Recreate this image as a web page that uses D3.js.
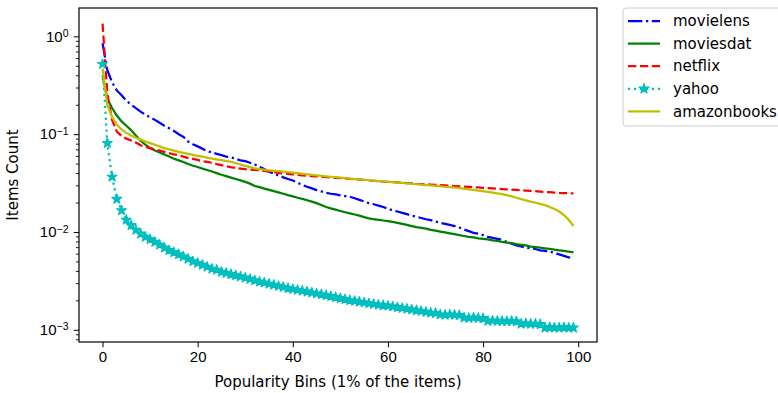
<!DOCTYPE html>
<html>
<head>
<meta charset="utf-8">
<script src="https://cdn.jsdelivr.net/npm/d3@7"></script>
<style>
  body { margin: 0; background: #fff; }
  svg { font-family: "DejaVu Sans", sans-serif; }
  .axis path, .axis line { stroke: #000; }
  .axis text { fill: #000; }
</style>
</head>
<body>
<svg id="chart" width="778" height="393"></svg>
<script>
// popularity bins, 1% of the items each
var bins = d3.range(100);

var movielens = [0.85, 0.45, 0.34, 0.28, 0.25, 0.22, 0.20, 0.185, 0.170, 0.158,
  0.149, 0.140, 0.131, 0.122, 0.115, 0.108, 0.100, 0.094, 0.084, 0.079,
  0.075, 0.071, 0.067, 0.065, 0.063, 0.061, 0.059, 0.058, 0.056, 0.054,
  0.053, 0.051, 0.049, 0.0464, 0.044, 0.0414, 0.0395, 0.0378, 0.0362, 0.0348,
  0.0336, 0.0318, 0.0303, 0.029, 0.0279, 0.0268, 0.0260, 0.0252, 0.0246, 0.0242,
  0.0237, 0.0233, 0.0229, 0.0221, 0.0213, 0.0205, 0.0197, 0.0192, 0.0186, 0.0180,
  0.0173, 0.0166, 0.0162, 0.0157, 0.0152, 0.0147, 0.0143, 0.0139, 0.0135, 0.0132,
  0.0128, 0.0124, 0.0121, 0.0118, 0.0115, 0.0111, 0.0106, 0.0102, 0.0098, 0.0096,
  0.0093, 0.0089, 0.0087, 0.0085, 0.0083, 0.0079, 0.0076, 0.0073, 0.0071, 0.0069,
  0.0068, 0.0067, 0.0065, 0.0064, 0.0063, 0.0061, 0.0059, 0.0057, 0.0055, 0.0054];

var moviesdat = [0.40, 0.23, 0.185, 0.155, 0.135, 0.122, 0.110, 0.097, 0.086, 0.078,
  0.072, 0.068, 0.065, 0.062, 0.059, 0.056, 0.054, 0.052, 0.0495, 0.0475,
  0.0462, 0.0445, 0.043, 0.0415, 0.040, 0.0385, 0.0372, 0.036, 0.0348, 0.0337,
  0.0325, 0.0312, 0.0295, 0.0287, 0.0278, 0.027, 0.0262, 0.0254, 0.0246, 0.0238,
  0.0231, 0.0224, 0.0218, 0.0211, 0.0204, 0.0197, 0.0189, 0.0180, 0.0174, 0.0169,
  0.0164, 0.0159, 0.0155, 0.0151, 0.0147, 0.0142, 0.0138, 0.0135, 0.0133, 0.0131,
  0.0129, 0.0127, 0.0124, 0.0121, 0.0118, 0.0115, 0.0112, 0.0110, 0.0108, 0.0105,
  0.0103, 0.0101, 0.0099, 0.0097, 0.0095, 0.0093, 0.0091, 0.0089, 0.0088, 0.0086,
  0.0085, 0.0084, 0.0082, 0.0081, 0.0079, 0.0078, 0.0077, 0.0075, 0.0074, 0.0073,
  0.0071, 0.0070, 0.0069, 0.0068, 0.0067, 0.0066, 0.0065, 0.0064, 0.0063, 0.0062];

var netflix = [1.35, 0.26, 0.14, 0.106, 0.096, 0.090, 0.086, 0.082, 0.077, 0.074,
  0.072, 0.070, 0.068, 0.066, 0.064, 0.062, 0.061, 0.059, 0.057, 0.056,
  0.0545, 0.053, 0.052, 0.051, 0.0495, 0.0483, 0.047, 0.046, 0.0452, 0.0445,
  0.0438, 0.0435, 0.0431, 0.0427, 0.0421, 0.0415, 0.041, 0.0403, 0.0397, 0.0393,
  0.0389, 0.0384, 0.038, 0.0377, 0.0373, 0.037, 0.0367, 0.0364, 0.0361, 0.0358,
  0.0355, 0.0352, 0.0349, 0.0346, 0.0343, 0.034, 0.0337, 0.0334, 0.0331, 0.0328,
  0.0326, 0.0324, 0.0321, 0.0318, 0.0316, 0.0314, 0.0311, 0.0309, 0.0307, 0.0305,
  0.0303, 0.0301, 0.0299, 0.0297, 0.0295, 0.0293, 0.0291, 0.0289, 0.0287, 0.0285,
  0.0283, 0.0281, 0.0279, 0.0277, 0.0275, 0.0273, 0.0271, 0.0269, 0.0267, 0.0265,
  0.0263, 0.0261, 0.0259, 0.0257, 0.0255, 0.0253, 0.0251, 0.025, 0.0249, 0.0248];

var yahoo = [0.52, 0.081, 0.0366, 0.0217, 0.0166, 0.0133, 0.0117, 0.0105, 0.0096, 0.0089,
  0.0084, 0.0079, 0.0074, 0.0069, 0.0065, 0.0062, 0.0059, 0.0056, 0.0053, 0.0050,
  0.0048, 0.0046, 0.0044, 0.0042, 0.0041, 0.0039, 0.0038, 0.0037, 0.0036, 0.0035,
  0.0034, 0.0033, 0.0032, 0.0031, 0.00303, 0.00295, 0.00288, 0.0028, 0.00273, 0.00266,
  0.0026, 0.00255, 0.0025, 0.00245, 0.0024, 0.00235, 0.0023, 0.00225, 0.0022, 0.00215,
  0.0021, 0.00205, 0.0020, 0.00197, 0.00193, 0.0019, 0.00186, 0.00183, 0.0018, 0.00178,
  0.00176, 0.00173, 0.0017, 0.00167, 0.00164, 0.00161, 0.00158, 0.00155, 0.00152, 0.00149,
  0.00148, 0.00143, 0.00142, 0.00143, 0.00142, 0.00141, 0.00133, 0.00132, 0.00133, 0.00132,
  0.00131, 0.00123, 0.00124, 0.00123, 0.00123, 0.00122, 0.00123, 0.00122, 0.00115, 0.00116,
  0.00115, 0.00115, 0.00114, 0.00105, 0.00106, 0.00105, 0.00105, 0.00106, 0.00105, 0.00105];

var amazonbooks = [0.47, 0.20, 0.15, 0.125, 0.112, 0.103, 0.097, 0.092, 0.088, 0.084,
  0.081, 0.078, 0.075, 0.072, 0.070, 0.068, 0.066, 0.0645, 0.063, 0.0615,
  0.060, 0.0588, 0.0575, 0.0563, 0.0552, 0.0542, 0.0532, 0.0522, 0.0505, 0.049,
  0.0475, 0.046, 0.0448, 0.044, 0.0433, 0.0427, 0.0422, 0.0418, 0.0414, 0.041,
  0.0404, 0.0399, 0.0393, 0.0388, 0.0383, 0.0379, 0.0375, 0.0371, 0.0367, 0.0363,
  0.0359, 0.0355, 0.0351, 0.0348, 0.0345, 0.0341, 0.0338, 0.0335, 0.0332, 0.0329,
  0.0326, 0.0323, 0.032, 0.0317, 0.0314, 0.0311, 0.0308, 0.0305, 0.0302, 0.0299,
  0.0296, 0.0293, 0.029, 0.0287, 0.0284, 0.0281, 0.0277, 0.0273, 0.0269, 0.0265,
  0.0261, 0.0257, 0.0253, 0.0248, 0.0244, 0.0238, 0.0231, 0.0224, 0.0217, 0.021,
  0.0204, 0.0199, 0.0194, 0.0188, 0.018, 0.0172, 0.0162, 0.0149, 0.0133, 0.0115];

var seriesNames = ["movielens", "moviesdat", "netflix", "yahoo", "amazonbooks"];
var seriesValues = [movielens, moviesdat, netflix, yahoo, amazonbooks];
var seriesColors = ["#0000ff", "#008000", "#ff0000", "#00bfbf", "#bfbf00"];
var seriesDash = ["14.4,3.6,2.25,3.6", null, "8.3,3.6", "2.25,3.7", null];
var seriesMarker = [false, false, false, true, false];

var xTicks = [0, 20, 40, 60, 80, 100];
var yMajor = [1e-3, 1e-2, 1e-1, 1];
var yLabels = ["\u22123", "\u22122", "\u22121", "0"];

var margin = {top: 8, right: 181, bottom: 51, left: 79};
var W = 778, H = 393;
var width = W - margin.left - margin.right,
    height = H - margin.top - margin.bottom;

var svg = d3.select("#chart");
var g = svg.append("g").attr("transform", "translate(" + margin.left + "," + margin.top + ")");

var x = d3.scaleLinear().domain([-4.95, 103.95]).range([0, width]);
var y = d3.scaleLog().domain([7.5e-4, 1.95]).range([height, 0]);

svg.append("defs").append("clipPath").attr("id", "clip")
  .append("rect").attr("width", width).attr("height", height);

// minor ticks for the log axis
var yMinor = [];
[1e-4, 1e-3, 1e-2, 1e-1, 1].forEach(function(d) {
  for (var k = 2; k <= 9; k++) {
    var v = d * k;
    if (v >= y.domain()[0] && v <= y.domain()[1]) yMinor.push(v);
  }
});

g.append("g").attr("class", "axis")
  .attr("transform", "translate(0," + height + ")")
  .call(d3.axisBottom(x).tickValues(xTicks).tickSize(5.25).tickPadding(4).tickFormat(d3.format("d")))
  .call(function(s) { s.select(".domain").remove(); })
  .selectAll("text").style("font-size", "15px");

g.append("g").attr("class", "axis")
  .call(d3.axisLeft(y).tickValues(yMinor).tickSize(3).tickFormat(""))
  .call(function(s) { s.select(".domain").remove(); })
  .selectAll("line").attr("stroke-width", 0.9);

var yAx = g.append("g").attr("class", "axis")
  .call(d3.axisLeft(y).tickValues(yMajor).tickSize(5.25).tickFormat(""))
  .call(function(s) { s.select(".domain").remove(); });

yAx.selectAll(".tick").each(function(d, i) {
  var t = d3.select(this).append("text")
    .attr("x", -10.5).attr("dy", "0.32em")
    .attr("text-anchor", "end").style("font-size", "15px");
  t.append("tspan").text("10");
  t.append("tspan").attr("dy", "-0.45em").style("font-size", "10.5px").text(yLabels[yMajor.indexOf(d)]);
});

g.selectAll(".axis line").attr("stroke", "#000");

// lines
var line = d3.line()
  .x(function(d, i) { return x(bins[i]); })
  .y(function(d) { return y(d); });

var plot = g.append("g").attr("clip-path", "url(#clip)");

seriesValues.forEach(function(vals, si) {
  plot.append("path")
    .datum(vals)
    .attr("fill", "none")
    .attr("stroke", seriesColors[si])
    .attr("stroke-width", 2.25)
    .attr("stroke-dasharray", seriesDash[si])
    .attr("d", line);
  if (seriesMarker[si]) {
    plot.append("g").selectAll("path")
      .data(vals)
      .enter().append("path")
      .attr("transform", function(d, i) { return "translate(" + x(bins[i]) + "," + y(d) + ")"; })
      .attr("d", d3.symbol().type(d3.symbolStar).size(30))
      .attr("fill", seriesColors[si])
      .attr("stroke", seriesColors[si])
      .attr("stroke-width", 1.2)
      .attr("stroke-linejoin", "round");
  }
});

// frame
g.append("rect")
  .attr("width", width).attr("height", height)
  .attr("fill", "none").attr("stroke", "#000").attr("stroke-width", 1.2);

// axis titles
g.append("text")
  .attr("x", width / 2).attr("y", height + 45)
  .attr("text-anchor", "middle").style("font-size", "15px")
  .text("Popularity Bins (1% of the items)");

g.append("text")
  .attr("transform", "translate(" + (-61) + "," + (height / 2) + ") rotate(-90)")
  .attr("text-anchor", "middle").style("font-size", "15px")
  .text("Items Count");

// legend outside the axes
var lg = svg.append("g").attr("transform", "translate(" + (margin.left + width + 26) + "," + margin.top + ")");
lg.append("rect")
  .attr("x", 0).attr("y", 0).attr("width", 170).attr("height", 118)
  .attr("rx", 3)
  .attr("fill", "#fff").attr("fill-opacity", 0.8)
  .attr("stroke", "#cccccc").attr("stroke-width", 1);

seriesNames.forEach(function(name, i) {
  var row = lg.append("g").attr("transform", "translate(0," + (13 + i * 22.6) + ")");
  row.append("line")
    .attr("x1", 5).attr("x2", 37).attr("y1", 0).attr("y2", 0)
    .attr("stroke", seriesColors[i]).attr("stroke-width", 2.25)
    .attr("stroke-dasharray", seriesDash[i]);
  if (seriesMarker[i]) {
    row.append("path")
      .attr("transform", "translate(21,0)")
      .attr("d", d3.symbol().type(d3.symbolStar).size(30))
      .attr("fill", seriesColors[i])
      .attr("stroke", seriesColors[i])
      .attr("stroke-width", 1.2)
      .attr("stroke-linejoin", "round");
  }
  row.append("text")
    .attr("x", 50).attr("dy", "0.35em")
    .style("font-size", "15px")
    .text(name);
});
</script>
</body>
</html>
